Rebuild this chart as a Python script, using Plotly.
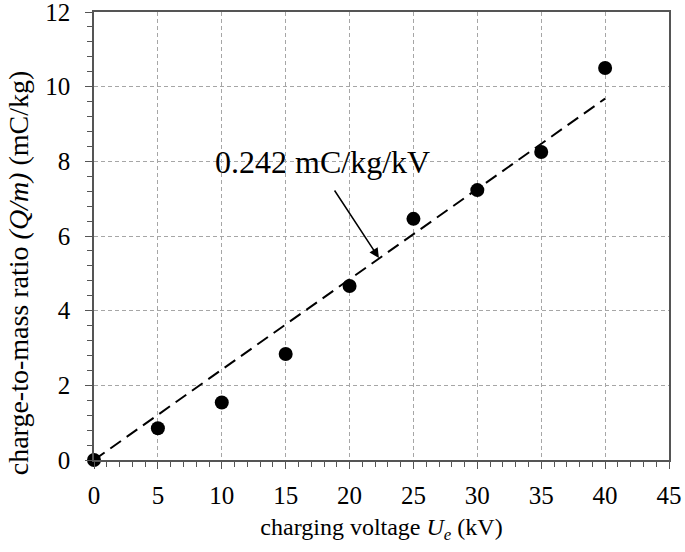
import plotly.graph_objects as go

voltage = [0, 5, 10, 15, 20, 25, 30, 35, 40]
q_over_m = [0.0, 0.85, 1.54, 2.84, 4.66, 6.46, 7.23, 8.25, 10.5]
slope = 0.242
fit_x = [0, 40]
fit_y = [slope * v for v in fit_x]

font = "Liberation Serif"

fig = go.Figure()
fig.add_trace(go.Scatter(x=fit_x, y=fit_y, mode="lines",
                         line=dict(color="black", width=2, dash="13px,7px"),
                         showlegend=False))
fig.add_trace(go.Scatter(x=voltage, y=q_over_m, mode="markers",
                         marker=dict(color="black", size=14),
                         cliponaxis=False, showlegend=False))

# slope label and its arrow
fig.add_annotation(x=17.9, y=7.98, text="0.242 mC/kg/kV", showarrow=False,
                   font=dict(family=font, size=32, color="black"))
fig.add_annotation(x=22.3, y=5.41, text=" ", showarrow=True, arrowhead=2,
                   arrowsize=1.3, arrowwidth=1.5, arrowcolor="black",
                   ax=-46, ay=-70, font=dict(size=2))

# y title as a rotated annotation (sits lower than the plot centre)
fig.add_annotation(xref="paper", yref="paper", x=-0.132, y=0.417,
                   text="charge-to-mass ratio <i>(Q/m)</i> (mC/kg)",
                   textangle=-90, showarrow=False,
                   xanchor="center", yanchor="middle",
                   font=dict(family=font, size=28, color="black"))

axis_common = dict(
    showline=True, linecolor="#555", linewidth=1.5, mirror=True,
    showgrid=True, gridcolor="#a6a6a6", griddash="4px,3px", gridwidth=1,
    ticks="outside", ticklen=7, tickcolor="#555", zeroline=False,
    automargin=False, ticklabeloverflow="allow",
    tickfont=dict(family=font, size=25, color="black"),
)

fig.update_xaxes(range=[0, 45], dtick=5, ticklabelstandoff=5, **axis_common,
                 minor=dict(dtick=1, ticks="outside", ticklen=5, tickcolor="#555"),
                 title=dict(text="charging voltage <i>U<sub>e</sub></i> (kV)",
                            font=dict(family=font, size=24, color="black"), standoff=10))
fig.update_yaxes(range=[0, 12], dtick=2, ticklabelstandoff=10, **axis_common,
                 minor=dict(dtick=0.4, ticks="outside", ticklen=5, tickcolor="#555"))

fig.update_layout(
    width=685, height=552, autosize=False,
    margin=dict(l=94, r=16, t=12, b=92),
    plot_bgcolor="white", paper_bgcolor="white",
    font=dict(family=font, color="black"),
)

fig.write_html("out.html", config={"displayModeBar": False},
               post_script="document.body.style.margin='0';")
